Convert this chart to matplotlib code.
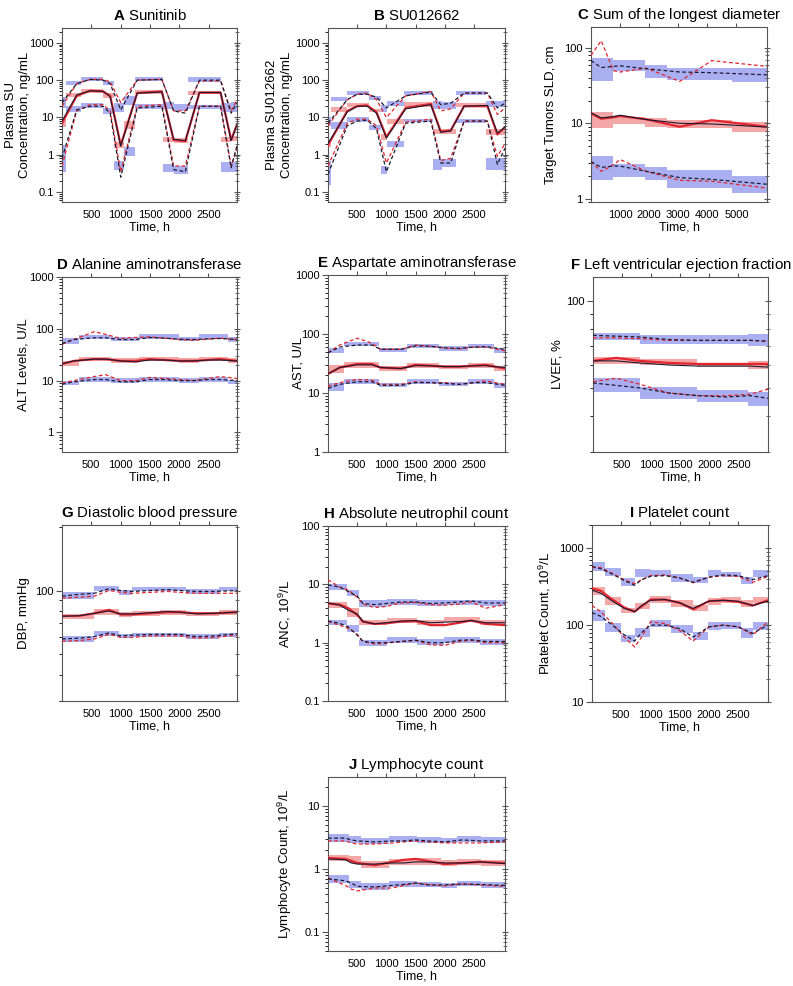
import numpy as np
import matplotlib
matplotlib.use('Agg')
import matplotlib.pyplot as plt
from matplotlib.ticker import LogLocator, FuncFormatter, NullFormatter, FixedLocator

plt.rcParams['font.family'] = ['Liberation Sans', 'DejaVu Sans']
plt.rcParams['mathtext.fontset'] = 'custom'
plt.rcParams['mathtext.rm'] = 'Liberation Sans'
plt.rcParams['mathtext.bf'] = 'Liberation Sans:bold'
plt.rcParams['mathtext.default'] = 'regular'

# ---------------- A  Sunitinib ----------------
A_edges = [0, 60, 330, 700, 880, 1050, 1250, 1720, 1900, 2150, 2350, 2700, 2880, 2980]
A_p95_lo = [18, 75, 95, 72, 14, 22, 92, 17, 15, 90, 90, 14, 14]
A_p95_hi = [35, 95, 120, 95, 25, 38, 118, 26, 23, 120, 118, 24, 26]
A_p50_lo = [5.5, 35, 45, 33, 1.5, 5, 42, 2.2, 2.1, 40, 42, 2.2, 2.3]
A_p50_hi = [9, 45, 58, 45, 2.2, 8, 55, 3.0, 2.9, 52, 52, 3.0, 3.2]
A_p5_lo = [0.35, 14, 18, 12, 0.38, 0.9, 17, 0.35, 0.3, 17, 17, 0.35, 0.35]
A_p5_hi = [1.8, 20, 24, 18, 0.7, 1.6, 23, 0.55, 0.5, 22, 22, 0.65, 0.65]
A_t = [0, 250, 480, 700, 820, 1000, 1280, 1700, 1900, 2100, 2340, 2700, 2880, 2980]
A_obs50 = [7, 38, 52, 50, 38, 1.8, 45, 50, 2.5, 2.3, 46, 46, 2.5, 6.5]
A_sim50 = [8, 40, 52, 50, 36, 1.7, 45, 48, 2.6, 2.4, 47, 47, 2.4, 6.5]
A_obs95 = [20, 80, 105, 105, 90, 25, 100, 105, 15, 15, 95, 95, 15, 30]
A_sim95 = [25, 80, 105, 100, 80, 16, 100, 105, 15, 13, 100, 100, 13, 25]
A_obs5 = [0.5, 15, 22, 22, 15, 0.35, 20, 22, 0.5, 0.5, 20, 20, 0.5, 1.5]
A_sim5 = [0.8, 16, 20, 20, 13, 0.25, 18, 20, 0.4, 0.35, 20, 20, 0.45, 1.8]

# ---------------- B  SU012662 ----------------
B_edges = [0, 60, 330, 700, 900, 1010, 1300, 1800, 1950, 2200, 2700, 3030]
B_p95_lo = [6, 27, 40, 30, 14, 20, 40, 17, 17, 40, 19]
B_p95_hi = [10, 35, 50, 38, 22, 28, 50, 28, 26, 50, 28]
B_p50_lo = [1.6, 14, 19, 14, 2.5, 6.6, 19, 3.6, 3.6, 18.5, 3.3]
B_p50_hi = [2.4, 19, 24, 17, 3.5, 9.3, 26, 5, 5, 24, 5]
B_p5_lo = [0.15, 5, 7.5, 4.5, 0.3, 1.6, 7.5, 0.4, 0.47, 7.3, 0.38]
B_p5_hi = [0.7, 7.6, 10.4, 6.3, 0.5, 2.4, 9.3, 0.75, 0.75, 9.3, 0.8]
B_t = [0, 330, 500, 670, 830, 1000, 1330, 1760, 1930, 2100, 2330, 2730, 2900, 3030]
B_obs50 = [1.8, 15, 20, 21, 14, 3, 18, 23, 4.2, 4.5, 20, 20, 3.5, 5.5]
B_sim50 = [2.0, 14, 20, 20, 13, 2.8, 17, 22, 4.0, 4.3, 20, 21, 3.8, 5.5]
B_obs95 = [6, 30, 42, 45, 30, 10, 38, 50, 15, 17, 45, 45, 12, 18]
B_sim95 = [7, 30, 42, 42, 35, 18, 38, 48, 22, 24, 45, 45, 18, 24]
B_obs5 = [0.5, 7, 9, 9, 6, 0.6, 7.5, 9, 0.7, 0.8, 8, 8, 0.9, 2]
B_sim5 = [0.3, 6, 8, 8.5, 5, 0.35, 7, 8, 0.6, 0.6, 8, 8, 0.55, 1.5]

# ---------------- C  SLD ----------------
C_edges = [0, 770, 1860, 2610, 4850, 6050]
C_p95_lo = [36, 49, 40, 38, 35]
C_p95_hi = [74, 70, 60, 54, 54]
C_p50_lo = [8.6, 9.7, 9.0, 8.6, 7.7]
C_p50_hi = [14.3, 12.3, 11.6, 11, 10.5]
C_p5_lo = [1.75, 1.95, 1.75, 1.4, 1.17]
C_p5_hi = [3.7, 2.9, 2.6, 2.4, 2.0]
C_t = [0, 350, 770, 1000, 1900, 3050, 4150, 6050]
C_obs50 = [13.5, 11.5, 12.0, 12.5, 11.3, 9.0, 11.0, 9.0]
C_sim50 = [13.8, 11.8, 12.3, 12.8, 11.2, 10.0, 9.8, 8.9]
C_obs95 = [80, 125, 50, 48, 54, 36, 68, 57]
C_sim95 = [68, 55, 57, 58, 53, 48, 47, 44]
C_obs5 = [3.1, 2.3, 2.8, 3.3, 2.3, 1.75, 1.7, 1.38]
C_sim5 = [3.1, 2.6, 2.7, 2.7, 2.3, 1.9, 1.8, 1.55]

# ---------------- D  ALT ----------------
D_edges = [0, 290, 830, 1320, 2000, 2340, 2830, 2990]
D_p95_lo = [51, 63, 57, 63, 57, 63, 55]
D_p95_hi = [66, 77, 71, 79, 69, 79, 69]
D_p50_lo = [19, 24, 22, 24, 22, 24, 22]
D_p50_hi = [24, 29, 27, 28, 27, 28, 27]
D_p5_lo = [8.2, 9.5, 9, 9.5, 9, 9.5, 8.5]
D_p5_hi = [10, 11.5, 11, 11.5, 11, 11.5, 10.5]
D_t = [0, 200, 550, 750, 1000, 1250, 1500, 1750, 2000, 2250, 2500, 2700, 2990]
D_obs95 = [50, 62, 88, 78, 65, 68, 70, 66, 62, 60, 63, 66, 62]
D_sim95 = [52, 62, 67, 67, 62, 62, 68, 66, 63, 62, 64, 65, 62]
D_obs50 = [21, 24, 26, 26, 24, 24, 26, 25, 24, 24, 25, 26, 24]
D_sim50 = [21, 24, 26, 26, 24, 23, 25, 25, 24, 24, 25, 25, 24]
D_obs5 = [9, 10, 12, 13, 10, 10, 11.5, 11, 10.5, 10, 11, 12, 11]
D_sim5 = [8.5, 9.5, 10.5, 10.5, 9.5, 9.5, 10.5, 10.5, 10, 10, 10.5, 10.5, 10]

# ---------------- E  AST ----------------
E_edges = [0, 270, 870, 1360, 1900, 2390, 2840, 3030]
E_p95_lo = [48, 62, 50, 58, 52, 58, 48]
E_p95_hi = [58, 72, 58, 68, 62, 68, 58]
E_p50_lo = [22, 27, 24, 27, 26, 27, 24]
E_p50_hi = [30, 33, 29, 32, 30, 32, 29]
E_p5_lo = [11, 14, 12.5, 14, 13, 14, 12]
E_p5_hi = [14.5, 17, 15, 17, 15.5, 17, 14.5]
E_t = [0, 200, 500, 750, 900, 1250, 1500, 1750, 2000, 2250, 2500, 2700, 3030]
E_obs95 = [48, 65, 85, 70, 55, 55, 65, 62, 58, 56, 60, 60, 52]
E_sim95 = [48, 60, 65, 65, 55, 55, 63, 62, 58, 57, 60, 61, 55]
E_obs50 = [21, 27, 31, 31, 27, 26, 30, 29, 28, 28, 29, 30, 26]
E_sim50 = [21, 27, 30, 30, 27, 26, 29, 29, 28, 28, 29, 29, 27]
E_obs5 = [13, 15, 17, 16.5, 14, 14, 15.5, 15, 15, 14, 15, 16, 14]
E_sim5 = [12, 14, 15.5, 15.5, 13.5, 13.5, 15, 15, 14.5, 14, 15, 15, 13.5]

# ---------------- F  LVEF ----------------
F_edges = [0, 800, 1790, 2670, 3010]
F_p95_lo = [73, 71, 71, 70]
F_p95_hi = [77.5, 76, 76, 77]
F_p50_lo = [60.7, 60, 59, 58]
F_p50_hi = [64, 63, 61, 61.7]
F_p5_lo = [48.4, 45.8, 44.8, 43.4]
F_p5_hi = [54, 50.3, 49, 48.4]
F_t = [0, 400, 800, 1300, 1800, 2300, 2700, 3010]
F_obs95 = [74.5, 74.5, 74, 73, 73, 73, 73, 72.5]
F_sim95 = [76, 75.5, 75, 73.5, 73, 73, 73, 72.5]
F_obs50 = [62, 63.5, 62, 61, 60.5, 60.5, 60.5, 60.5]
F_sim50 = [62, 62, 61, 60, 59.5, 59.5, 59.5, 59]
F_obs5 = [52.5, 54, 51.5, 48, 47, 47, 47.5, 49.5]
F_sim5 = [52, 51, 50, 48, 47, 46.5, 47, 46]

# ---------------- G  DBP ----------------
G_edges = [0, 547, 974, 1200, 1660, 2110, 2680, 2980]
G_p95_lo = [91, 100, 95.7, 99.3, 99, 96, 99]
G_p95_hi = [98, 105.6, 100.7, 103.7, 104, 102, 103.7]
G_p50_lo = [73, 77, 75, 76, 77, 75.5, 76.5]
G_p50_hi = [77, 82, 79, 80, 81, 79.5, 80.5]
G_p5_lo = [57.3, 61, 59.5, 60.4, 60.4, 59, 60]
G_p5_hi = [61, 64.5, 62.6, 63, 63, 62, 63]
G_t = [0, 300, 550, 800, 1000, 1200, 1500, 1800, 2000, 2300, 2600, 2980]
G_obs95 = [92, 93, 94, 100, 98, 97, 98, 99, 98, 97, 97, 97]
G_sim95 = [94, 96, 97, 102, 100, 99, 100, 101, 100, 99, 99, 100]
G_obs50 = [76, 76, 78, 81, 77, 77, 78, 79, 79, 78, 78, 79]
G_sim50 = [75.5, 76, 78, 80, 77.5, 77.5, 78.5, 79.5, 79, 77.5, 78, 79]
G_obs5 = [57.5, 58, 59, 62, 60, 60, 61, 61, 61, 59.5, 60, 61.5]
G_sim5 = [59, 59.5, 60.5, 63, 61, 61.5, 62, 62, 62, 60.5, 61, 62.5]

# ---------------- H  ANC ----------------
H_edges = [0, 330, 530, 1010, 1530, 1990, 2610, 3030]
H_p95_lo = [8, 6.3, 4.15, 4.4, 4.2, 4.4, 4.2]
H_p95_hi = [10, 8, 5.4, 5.7, 5.4, 5.5, 5.4]
H_p50_lo = [3.9, 2.8, 2.0, 2.2, 2.0, 2.3, 2.0]
H_p50_hi = [5, 3.9, 2.45, 2.6, 2.45, 2.8, 2.45]
H_p5_lo = [2.0, 1.5, 0.88, 1.0, 0.9, 1.0, 0.9]
H_p5_hi = [2.45, 2.0, 1.1, 1.27, 1.14, 1.27, 1.14]
H_t = [0, 200, 350, 500, 600, 800, 1000, 1250, 1500, 1750, 2000, 2250, 2450, 2700, 3030]
H_obs95 = [12, 9, 8, 6, 4.6, 4.0, 4.2, 4.8, 4.9, 4.5, 4.4, 4.6, 5.0, 3.9, 4.5]
H_sim95 = [9.8, 9.0, 7.5, 6.3, 4.7, 4.5, 4.7, 5.0, 5.0, 4.7, 4.8, 5.0, 5.2, 4.8, 4.8]
H_obs50 = [4.7, 4.5, 3.9, 3.0, 2.3, 2.1, 2.15, 2.3, 2.35, 2.0, 2.0, 2.2, 2.4, 2.1, 2.0]
H_sim50 = [4.8, 4.4, 3.6, 3.1, 2.3, 2.1, 2.2, 2.35, 2.4, 2.2, 2.25, 2.3, 2.4, 2.2, 2.2]
H_obs5 = [2.3, 2.0, 1.75, 1.4, 1.05, 0.95, 0.98, 1.05, 1.1, 0.92, 0.9, 1.05, 1.1, 1.0, 1.0]
H_sim5 = [2.35, 2.15, 1.85, 1.35, 1.05, 1.0, 1.0, 1.05, 1.1, 1.0, 1.0, 1.1, 1.12, 1.05, 1.05]

# ---------------- I  Platelets ----------------
I_edges = [0, 215, 500, 730, 985, 1357, 1729, 1986, 2214, 2557, 2757, 3010]
I_p95_lo = [500, 430, 323, 418, 436, 368, 349, 436, 418, 342, 418]
I_p95_hi = [670, 560, 409, 532, 522, 463, 427, 522, 497, 427, 522]
I_p50_lo = [247, 182, 142, 160, 192, 174, 154, 182, 192, 170, 192]
I_p50_hi = [316, 234, 166, 192, 239, 212, 182, 222, 234, 212, 234]
I_p5_lo = [114, 82, 61, 70, 95, 78, 65, 86, 90, 67, 86]
I_p5_hi = [157, 105, 74, 91, 116, 100, 82, 111, 111, 91, 111]
I_t = [0, 150, 350, 550, 730, 850, 1000, 1250, 1500, 1730, 2000, 2250, 2500, 2750, 3010]
I_obs95 = [560, 560, 470, 390, 345, 390, 440, 450, 410, 355, 420, 440, 430, 360, 430]
I_sim95 = [580, 540, 460, 380, 330, 390, 430, 440, 410, 360, 420, 450, 440, 390, 440]
I_obs50 = [300, 280, 215, 170, 150, 175, 215, 215, 195, 160, 205, 210, 200, 180, 210]
I_sim50 = [285, 260, 205, 165, 150, 180, 210, 215, 195, 165, 205, 210, 205, 180, 205]
I_obs5 = [180, 150, 105, 70, 52, 70, 110, 105, 85, 62, 95, 100, 95, 75, 110]
I_sim5 = [145, 130, 100, 75, 62, 80, 100, 100, 90, 70, 95, 100, 95, 78, 100]

# ---------------- J  Lymphocytes ----------------
J_edges = [0, 357, 557, 1043, 1529, 1929, 2214, 2614, 3030]
J_p95_lo = [2.7, 2.6, 2.5, 2.7, 2.6, 2.55, 2.7, 2.6]
J_p95_hi = [3.6, 3.3, 3.1, 3.3, 3.2, 3.1, 3.3, 3.2]
J_p50_lo = [1.33, 1.25, 1.05, 1.17, 1.17, 1.12, 1.15, 1.12]
J_p50_hi = [1.7, 1.6, 1.33, 1.44, 1.5, 1.4, 1.45, 1.4]
J_p5_lo = [0.6, 0.5, 0.47, 0.52, 0.52, 0.5, 0.53, 0.5]
J_p5_hi = [0.8, 0.64, 0.59, 0.64, 0.62, 0.6, 0.64, 0.62]
J_t = [0, 300, 400, 500, 800, 1100, 1300, 1500, 1700, 2000, 2300, 2600, 3030]
J_obs95 = [2.8, 2.8, 2.6, 2.5, 2.5, 2.6, 2.7, 2.8, 2.7, 2.6, 2.6, 2.6, 2.7]
J_sim95 = [3.1, 3.1, 2.9, 2.8, 2.7, 2.8, 2.8, 2.9, 2.8, 2.7, 2.9, 2.8, 2.8]
J_obs50 = [1.5, 1.45, 1.35, 1.25, 1.15, 1.3, 1.4, 1.45, 1.35, 1.2, 1.25, 1.3, 1.25]
J_sim50 = [1.45, 1.4, 1.25, 1.2, 1.2, 1.25, 1.25, 1.3, 1.3, 1.25, 1.25, 1.3, 1.22]
J_obs5 = [0.72, 0.55, 0.48, 0.45, 0.5, 0.5, 0.55, 0.6, 0.57, 0.54, 0.58, 0.56, 0.53]
J_sim5 = [0.7, 0.65, 0.6, 0.53, 0.52, 0.55, 0.57, 0.6, 0.56, 0.56, 0.58, 0.57, 0.55]

BLUE = '#a9aff0'
PINK = '#f4a7a7'
RED = '#e3262e'
DARK = '#1b1b33'
FRAME = '#555555'


def draw(rect, letter, title, ylabel, labx, xlim, ylim, xticks, boxes, lines):
    ax = fig.add_axes(rect)
    edges, p5lo, p5hi, p50lo, p50hi, p95lo, p95hi = boxes
    t, o5, o50, o95, s5, s50, s95 = lines
    w = np.diff(edges)
    left = edges[:-1]
    for lo, hi, col in [(p5lo, p5hi, BLUE), (p95lo, p95hi, BLUE), (p50lo, p50hi, PINK)]:
        ax.bar(left, np.array(hi) - np.array(lo), bottom=lo, width=w, align='edge',
               color=col, linewidth=0, zorder=1)
    ax.plot(t, o50, color=RED, lw=1.6, zorder=3)
    ax.plot(t, s50, color=DARK, lw=0.8, zorder=4)
    for o in (o5, o95):
        ax.plot(t, o, color=RED, lw=0.9, dashes=(3, 2), zorder=3)
    for s in (s5, s95):
        ax.plot(t, s, color=DARK, lw=0.9, dashes=(3, 2), zorder=4)

    ax.set_yscale('log')
    ax.set_xlim(*xlim)
    ax.set_ylim(*ylim)
    ax.yaxis.set_major_locator(LogLocator(base=10))
    ax.yaxis.set_major_formatter(FuncFormatter(lambda v, p: '%g' % v))
    ax.yaxis.set_minor_formatter(NullFormatter())
    ax.xaxis.set_major_locator(FixedLocator(xticks))
    ax.tick_params(axis='y', which='major', left=True, right=False, direction='out',
                   length=4, width=0.8, labelsize=8, color=FRAME, pad=2)
    ax.tick_params(axis='y', which='minor', left=False, right=False)
    ax.tick_params(axis='x', which='major', top=True, bottom=False, direction='out',
                   length=3, width=0.8, labelsize=8, color=FRAME, pad=3)
    ax.tick_params(axis='x', which='minor', top=False, bottom=False)

    tw = ax.twinx()
    tw.set_yscale('log')
    tw.set_ylim(*ylim)
    tw.yaxis.set_major_formatter(NullFormatter())
    tw.yaxis.set_minor_formatter(NullFormatter())
    tw.tick_params(which='major', direction='inout', length=5, width=0.8, color=FRAME)
    tw.tick_params(which='minor', direction='inout', length=3, width=0.6, color=FRAME)
    for s in tw.spines.values():
        s.set_visible(False)

    for s in ax.spines.values():
        s.set_color(FRAME)
        s.set_linewidth(0.8)
    ax.set_xlabel('Time, h', fontsize=9, labelpad=1)
    ax.set_ylabel(ylabel, fontsize=9.5, linespacing=1.25)
    ax.yaxis.set_label_coords(labx, 0.5)
    ax.set_title(r'$\mathbf{%s}$ %s' % (letter, title), fontsize=10.8, pad=6)
    return ax


fig = plt.figure(figsize=(7.93, 9.86), dpi=100)
xt = [500, 1000, 1500, 2000, 2500]

draw([0.0782, 0.7951, 0.2207, 0.1765], 'A', 'Sunitinib', 'Plasma SU\nConcentration, ng/mL', -0.175,
     (0, 2980), (0.054, 2500), xt,
     (A_edges, A_p5_lo, A_p5_hi, A_p50_lo, A_p50_hi, A_p95_lo, A_p95_hi),
     (A_t, A_obs5, A_obs50, A_obs95, A_sim5, A_sim50, A_sim95))
draw([0.4136, 0.7951, 0.2232, 0.1765], 'B', 'SU012662', 'Plasma SU012662\nConcentration, ng/mL', -0.20,
     (0, 3030), (0.054, 2500), xt,
     (B_edges, B_p5_lo, B_p5_hi, B_p50_lo, B_p50_hi, B_p95_lo, B_p95_hi),
     (B_t, B_obs5, B_obs50, B_obs95, B_sim5, B_sim50, B_sim95))
draw([0.7453, 0.7951, 0.2219, 0.1775], 'C', 'Sum of the longest diameter', 'Target Tumors SLD, cm', -0.195,
     (0, 6050), (0.9, 190), [1000, 2000, 3000, 4000, 5000],
     (C_edges, C_p5_lo, C_p5_hi, C_p50_lo, C_p50_hi, C_p95_lo, C_p95_hi),
     (C_t, C_obs5, C_obs50, C_obs95, C_sim5, C_sim50, C_sim95))
draw([0.0782, 0.5416, 0.2207, 0.1775], 'D', 'Alanine aminotransferase', 'ALT Levels, U/L', -0.183,
     (0, 2990), (0.42, 1000), xt,
     (D_edges, D_p5_lo, D_p5_hi, D_p50_lo, D_p50_hi, D_p95_lo, D_p95_hi),
     (D_t, D_obs5, D_obs50, D_obs95, D_sim5, D_sim50, D_sim95))
draw([0.4136, 0.5416, 0.2232, 0.1795], 'E', 'Aspartate aminotransferase', 'AST, U/L', -0.13,
     (0, 3030), (1, 1000), xt,
     (E_edges, E_p5_lo, E_p5_hi, E_p50_lo, E_p50_hi, E_p95_lo, E_p95_hi),
     (E_t, E_obs5, E_obs50, E_obs95, E_sim5, E_sim50, E_sim95))
draw([0.7478, 0.5416, 0.2207, 0.1775], 'F', 'Left ventricular ejection fraction', 'LVEF, %', -0.171,
     (0, 3010), (30, 121), xt,
     (F_edges, F_p5_lo, F_p5_hi, F_p50_lo, F_p50_hi, F_p95_lo, F_p95_hi),
     (F_t, F_obs5, F_obs50, F_obs95, F_sim5, F_sim50, F_sim95))
draw([0.0782, 0.2890, 0.2207, 0.1785], 'G', 'Diastolic blood pressure', 'DBP, mmHg', -0.183,
     (0, 2980), (30, 204), xt,
     (G_edges, G_p5_lo, G_p5_hi, G_p50_lo, G_p50_hi, G_p95_lo, G_p95_hi),
     (G_t, G_obs5, G_obs50, G_obs95, G_sim5, G_sim50, G_sim95))
draw([0.4136, 0.2890, 0.2232, 0.1775], 'H', 'Absolute neutrophil count', 'ANC, 10$^9$/L', -0.198,
     (0, 3030), (0.1, 100), xt,
     (H_edges, H_p5_lo, H_p5_hi, H_p50_lo, H_p50_hi, H_p95_lo, H_p95_hi),
     (H_t, H_obs5, H_obs50, H_obs95, H_sim5, H_sim50, H_sim95))
draw([0.7465, 0.2880, 0.2219, 0.1795], 'I', 'Platelet count', 'Platelet Count, 10$^9$/L', -0.22,
     (0, 3010), (10, 2000), xt,
     (I_edges, I_p5_lo, I_p5_hi, I_p50_lo, I_p50_hi, I_p95_lo, I_p95_hi),
     (I_t, I_obs5, I_obs50, I_obs95, I_sim5, I_sim50, I_sim95))
draw([0.4136, 0.0355, 0.2232, 0.1765], 'J', 'Lymphocyte count', 'Lymphocyte Count, 10$^9$/L', -0.19,
     (0, 3030), (0.05, 29), xt,
     (J_edges, J_p5_lo, J_p5_hi, J_p50_lo, J_p50_hi, J_p95_lo, J_p95_hi),
     (J_t, J_obs5, J_obs50, J_obs95, J_sim5, J_sim50, J_sim95))

fig.savefig('out.png', dpi=100)
